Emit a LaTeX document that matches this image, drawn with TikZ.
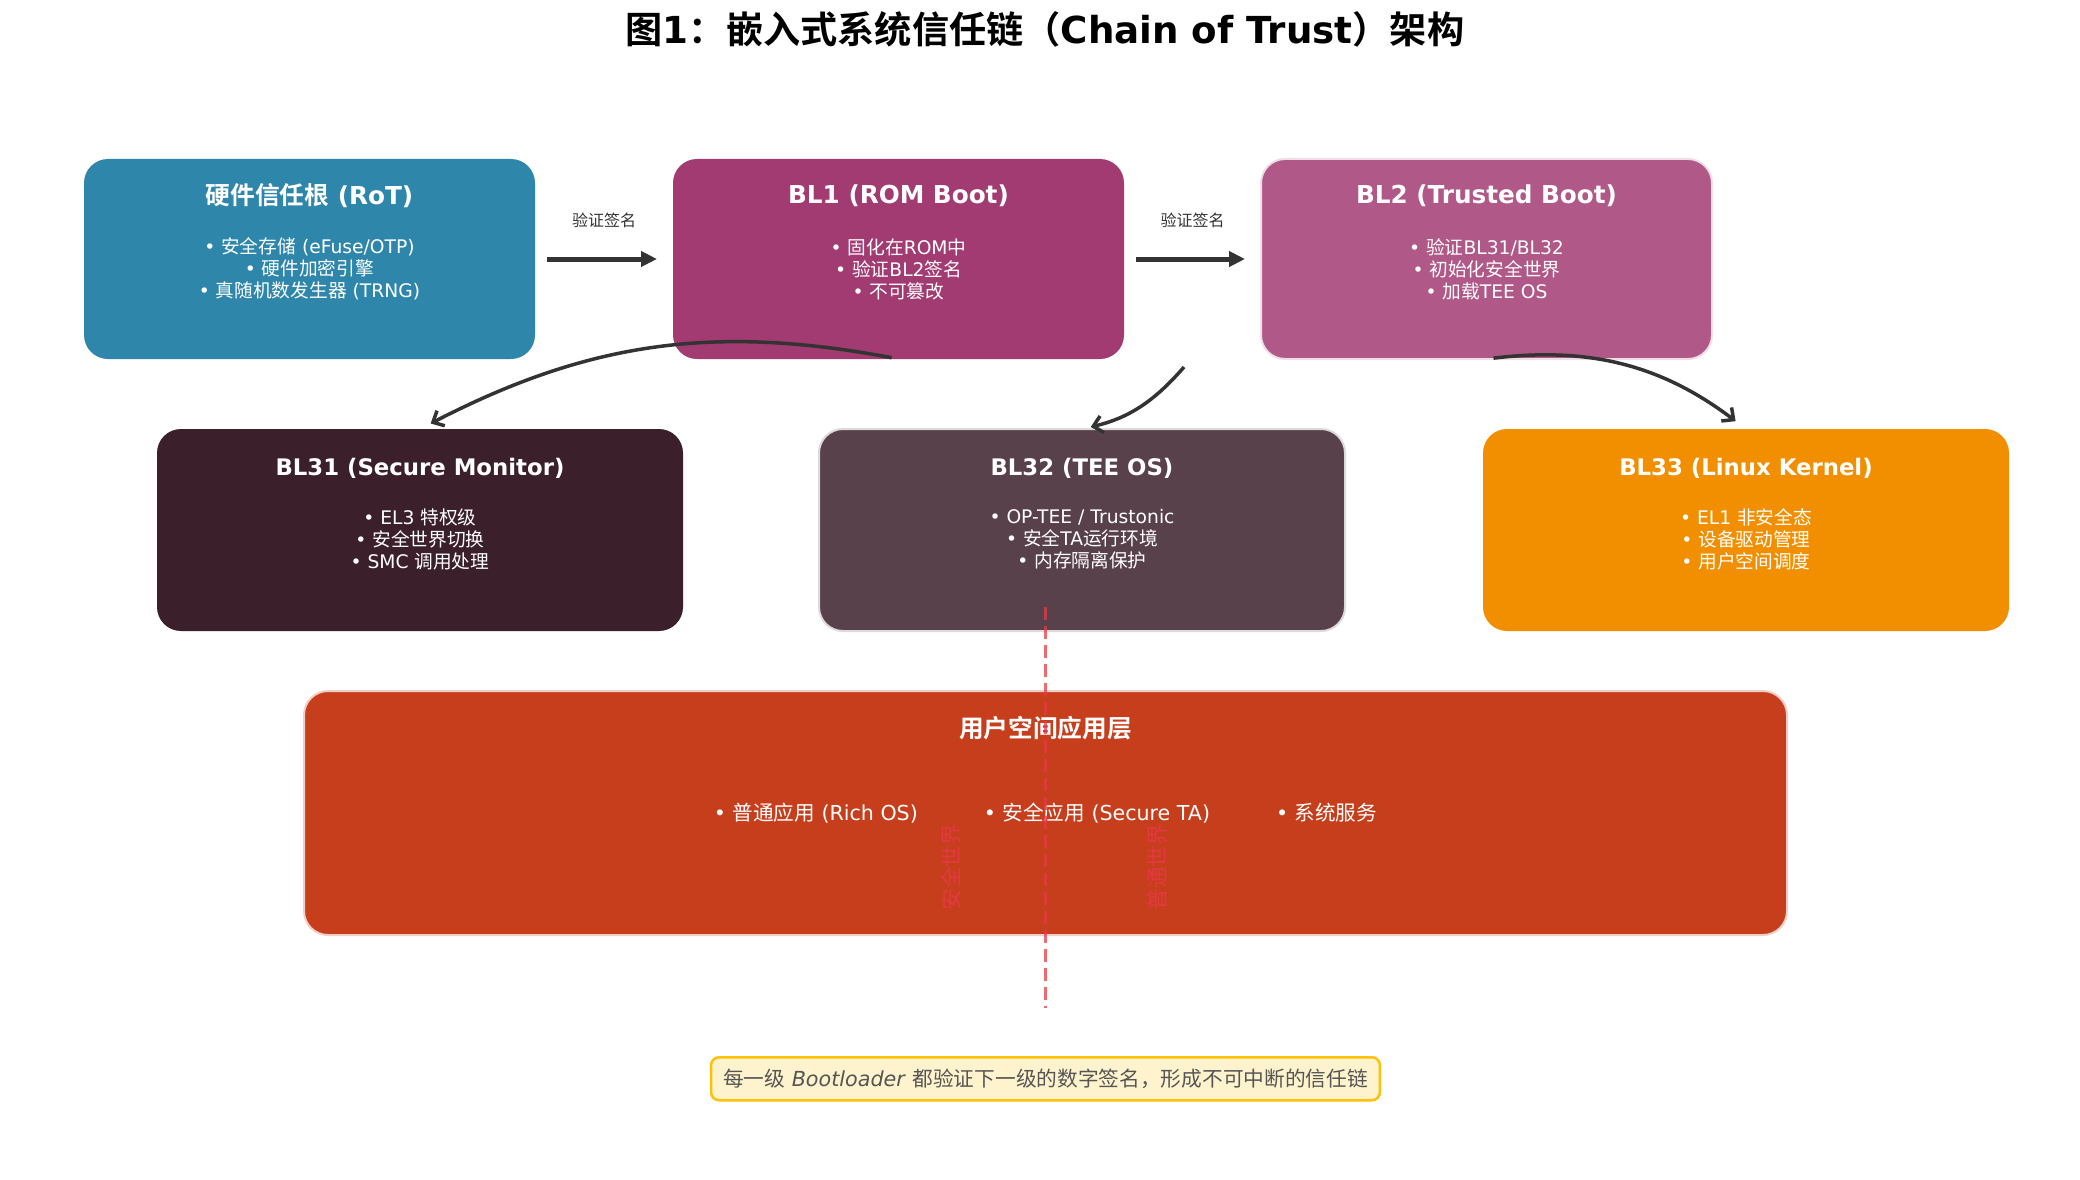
\documentclass[tikz,border=0pt]{standalone}
\usepackage{fontspec}
\usetikzlibrary{positioning,arrows.meta}
\setmainfont{DejaVu Sans}
\newfontfamily\cjk{Noto Sans CJK SC}[BoldFont={Noto Sans CJK SC Bold}]
% CJK characters switch to the CJK family
\XeTeXinterchartokenstate=1
\newXeTeXintercharclass\cjkclass
\newcount\cjkc
\cjkc="3000 \loop\XeTeXcharclass\cjkc=\cjkclass \ifnum\cjkc<"303F \advance\cjkc by 1 \repeat
\cjkc="4E00 \loop\XeTeXcharclass\cjkc=\cjkclass \ifnum\cjkc<"9FFF \advance\cjkc by 1 \repeat
\cjkc="FF00 \loop\XeTeXcharclass\cjkc=\cjkclass \ifnum\cjkc<"FFEF \advance\cjkc by 1 \repeat
\XeTeXinterchartoks 0 \cjkclass = {\begingroup\cjk}
\XeTeXinterchartoks 4095 \cjkclass = {\begingroup\cjk}
\XeTeXinterchartoks \cjkclass 0 = {\endgroup}
\XeTeXinterchartoks \cjkclass 4095 = {\endgroup}
\definecolor{rotblue}{HTML}{2E86AB}
\definecolor{romplum}{HTML}{A23B72}
\definecolor{tbplum}{HTML}{B05887}
\definecolor{monitor}{HTML}{3B1F2B}
\definecolor{teeos}{HTML}{58414B}
\definecolor{kernel}{HTML}{F18F01}
\definecolor{userred}{HTML}{C73E1D}
\definecolor{arrowgray}{HTML}{333333}
\definecolor{split}{HTML}{E63946}
\definecolor{notefill}{HTML}{FFF3CD}
\definecolor{noteedge}{HTML}{FFC107}
\definecolor{notetext}{HTML}{555555}

\begin{document}
\begin{tikzpicture}[x=1pt,y=1pt,
    box/.style={line width=2pt,outer sep=0pt,rounded corners=24pt,minimum width=451pt,minimum height=200pt,inner sep=0pt},
    wide box/.style={box,minimum width=526pt,minimum height=202pt},
    box title/.style={text=white,font=\fontsize{24.7}{28}\selectfont\bfseries},
    row title/.style={text=white,font=\fontsize{22.8}{26}\selectfont\bfseries},
    box items/.style={text=white,align=center,font=\fontsize{18.7}{22}\selectfont},
    sign/.style={-{Triangle[length=16pt,width=15pt]},line width=5pt,draw=arrowgray,shorten <=12pt,shorten >=16pt},
    sign label/.style={text=arrowgray,font=\fontsize{16}{18}\selectfont},
    flow/.style={-{Straight Barb[length=9pt,width=17pt]},line width=3.5pt,draw=arrowgray},
    world/.style={text=split,opacity=0.9,font=\fontsize{21.5}{24}\selectfont,rotate=90}]

\useasboundingbox[fill=white] (0,0) rectangle (2080,-1180);

\node[font=\fontsize{37.2}{42}\selectfont\bfseries] (title) at (1045,-29) {图1：嵌入式系统信任链（Chain of Trust）架构};

% first row
\node[box,fill=rotblue]                         (rot) at (309.5,-259) {};
\node[box,fill=romplum,right=138pt of rot]      (bl1) {};
\node[box,fill=tbplum,draw=white!80!tbplum,right=137pt of bl1] (bl2) {};

\node[box title] (rot-t) at ([yshift=-37pt]rot.north) {硬件信任根 (RoT)};
\node[box items] (rot-i) at ([yshift=-10pt]rot.center) {• 安全存储 (eFuse/OTP)\\• 硬件加密引擎\\• 真随机数发生器 (TRNG)};
\node[box title] (bl1-t) at ([yshift=-37pt]bl1.north) {BL1 (ROM Boot)};
\node[box items] (bl1-i) at ([yshift=-10pt]bl1.center) {• 固化在ROM中\\• 验证BL2签名\\• 不可篡改};
\node[box title] (bl2-t) at ([yshift=-37pt]bl2.north) {BL2 (Trusted Boot)};
\node[box items] (bl2-i) at ([yshift=-10pt]bl2.center) {• 验证BL31/BL32\\• 初始化安全世界\\• 加载TEE OS};

% second row
\node[wide box,fill=monitor]                    (bl31) at (420,-530) {};
\node[wide box,fill=teeos,draw=white!80!teeos,right=136pt of bl31] (bl32) {};
\node[wide box,fill=kernel,right=138pt of bl32] (bl33) {};

\node[row title] (bl31-t) at ([yshift=-39pt]bl31.north) {BL31 (Secure Monitor)};
\node[box items] (bl31-i) at ([yshift=-9pt]bl31.center) {• EL3 特权级\\• 安全世界切换\\• SMC 调用处理};
\node[row title] (bl32-t) at ([yshift=-39pt]bl32.north) {BL32 (TEE OS)};
\node[box items] (bl32-i) at ([yshift=-9pt]bl32.center) {• OP-TEE / Trustonic\\• 安全TA运行环境\\• 内存隔离保护};
\node[row title] (bl33-t) at ([yshift=-39pt]bl33.north) {BL33 (Linux Kernel)};
\node[box items] (bl33-i) at ([yshift=-9pt]bl33.center) {• EL1 非安全态\\• 设备驱动管理\\• 用户空间调度};

% user space
\node[box,fill=userred,draw=white!75!userred,minimum width=1483pt,minimum height=244pt] (user) at (1045.5,-813) {};
\node[box title] (user-t) at ([yshift=-37pt]user.north) {用户空间应用层};
\node[box items,font=\fontsize{20.6}{24}\selectfont] (user-i) at (user.center) {• 普通应用 (Rich OS)\hspace{66pt}• 安全应用 (Secure TA)\hspace{66pt}• 系统服务};

% signature checks
\draw[sign] (rot) -- node[sign label,yshift=39pt] (sig1) {验证签名} (bl1);
\draw[sign] (bl1) -- node[sign label,yshift=39pt] (sig2) {验证签名} (bl2);

\coordinate (tee-src) at ([xshift=-77pt,yshift=-8pt]bl2.south west);
\draw[flow,shorten <=7pt,shorten >=12pt] (bl1.south) to[bend right=19] (bl31.north);
\draw[flow,shorten >=9pt] (tee-src) to[bend left=18] (bl32.north);
\draw[flow,shorten <=7pt,shorten >=13pt] (bl2.south) to[bend left=22] (bl33.north);

% secure / normal world split
\coordinate (split-top) at ([yshift=84pt]user.north);
\coordinate (split-bot) at ([yshift=-73pt]user.south);
\draw[split,opacity=0.75,line width=3.5pt,dash pattern=on 13pt off 6pt] (split-top) -- (split-bot);
\node[world] (sec-w) at ([xshift=-94pt,yshift=-54pt]user.center) {安全世界};
\node[world] (nor-w) at ([xshift=112pt,yshift=-54pt]user.center) {普通世界};

\node[draw=noteedge,fill=notefill,line width=2.5pt,rounded corners=8pt,text=notetext,
      minimum height=43pt,inner xsep=12pt,font=\fontsize{20.7}{24}\selectfont,below=121pt of user] (note)
      {每一级 \textit{Bootloader} 都验证下一级的数字签名，形成不可中断的信任链};
\end{tikzpicture}
\end{document}
